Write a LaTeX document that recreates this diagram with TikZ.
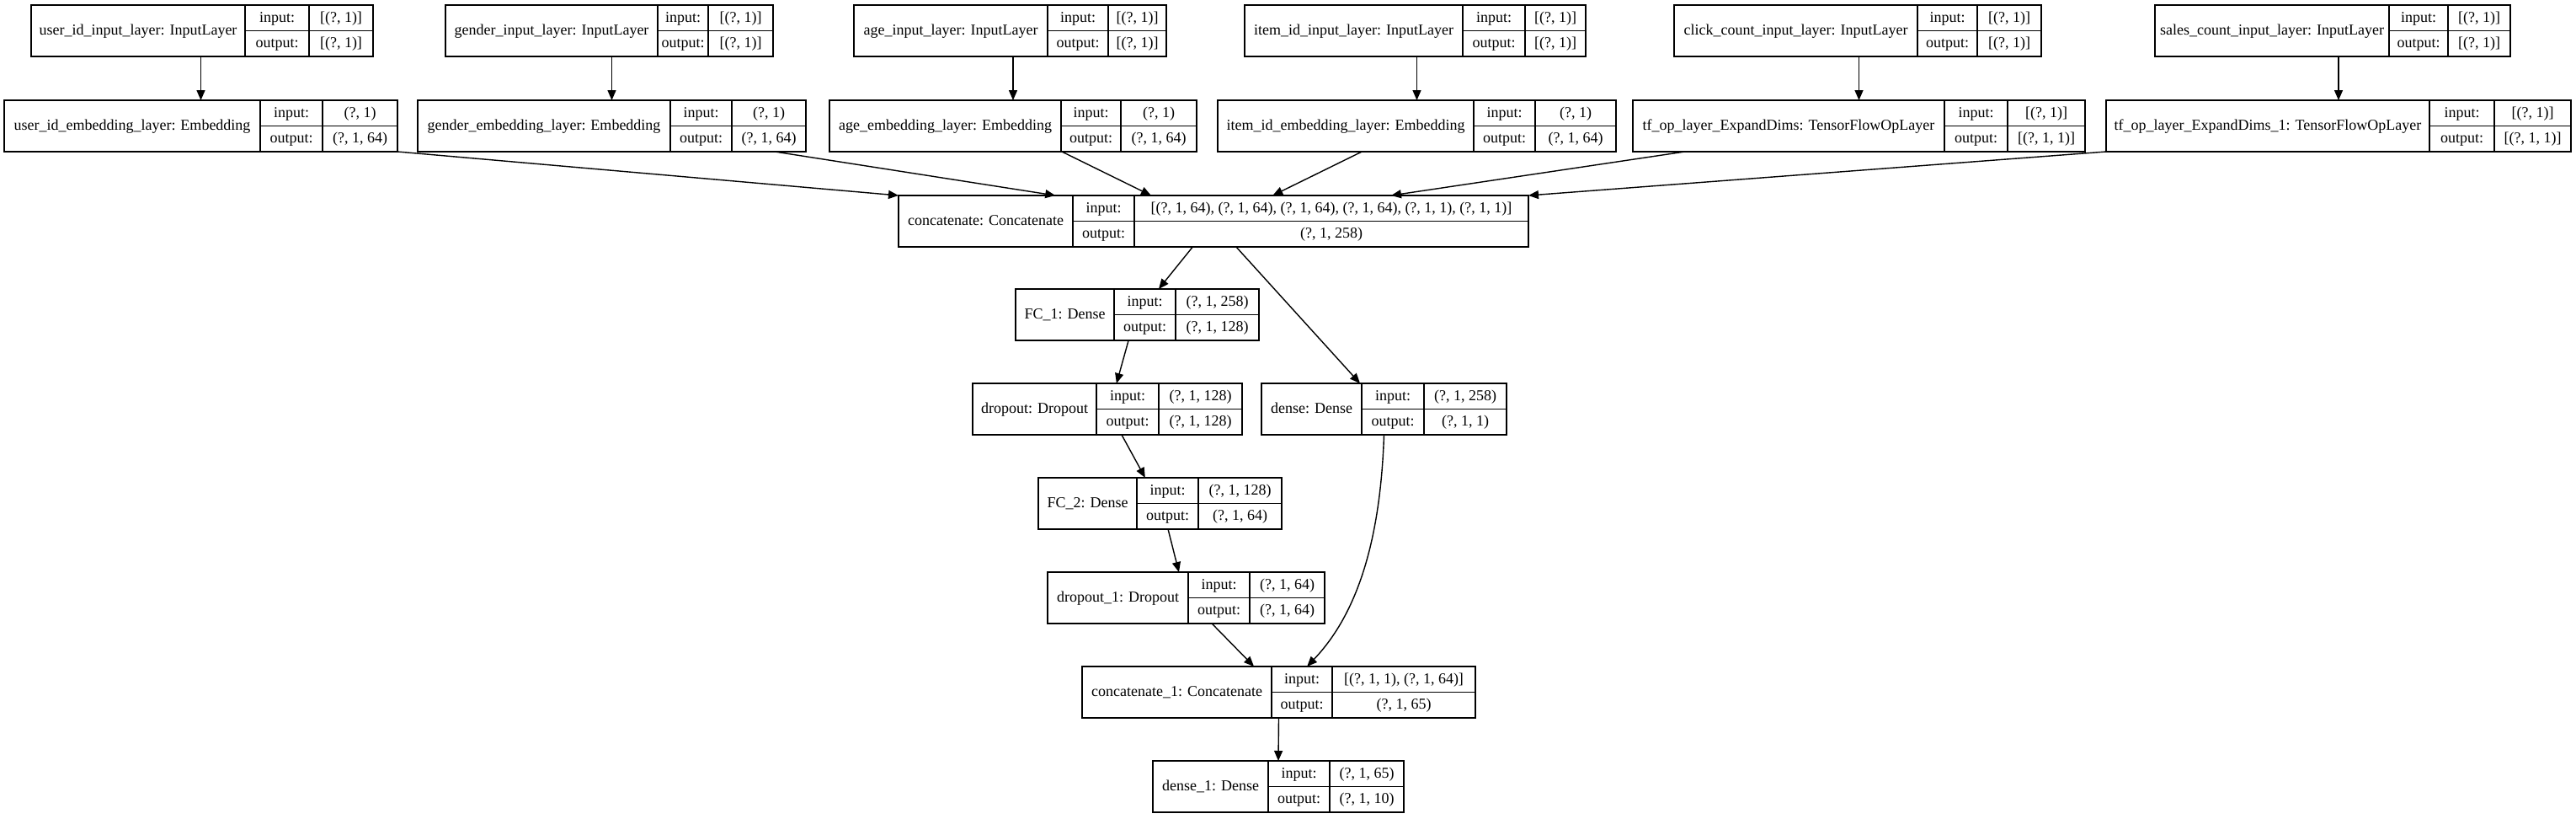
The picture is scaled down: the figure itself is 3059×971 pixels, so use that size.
\documentclass[tikz,border=0pt]{standalone}
\usepackage{fontspec}
\setmainfont{Liberation Serif}
\usetikzlibrary{arrows.meta,calc}
\tikzset{
  box/.style={draw=black, line width=0.75pt, inner sep=0pt, outer sep=0pt},
  boxline/.style={draw=black, line width=0.75pt},
  txt/.style={inner sep=0pt, text height=6.4pt, text depth=1.9pt, font=\fontsize{9pt}{10pt}\selectfont},
  arr/.style={draw=black, line width=0.7pt, -{Triangle[length=6pt,width=5pt]}},
}
\newcommand\klayer[9]{%
  \node[box, minimum width={(#5-#2)*0.5pt}, minimum height=30.5pt] (#1) at ({(#2+#5)/2},{#6+30.5}) {};
  \draw[boxline] (#3,#6) -- (#3,#6+61) (#4,#6) -- (#4,#6+61) (#3,#6+30.5) -- (#5,#6+30.5);
  \node[txt] (#1-n) at ({(#2+#3)/2},{#6+30.5}) {#7};
  \node[txt] (#1-il) at ({(#3+#4)/2},{#6+15.5}) {input:};
  \node[txt] (#1-ol) at ({(#3+#4)/2},{#6+46}) {output:};
  \node[txt] (#1-iv) at ({(#4+#5)/2},{#6+15.5}) {#8};
  \node[txt] (#1-ov) at ({(#4+#5)/2},{#6+46}) {#9};
}
\begin{document}
\begin{tikzpicture}[x=0.5pt,y=-0.5pt]
\useasboundingbox[fill=white] (0,0) rectangle (3059,971);
% row 1: inputs
\klayer{ui}{37}{291}{367}{443}{6}{user\_id\_input\_layer: InputLayer}{[(?, 1)]}{[(?, 1)]}
\klayer{gi}{529}{781}{841}{918}{6}{gender\_input\_layer: InputLayer}{[(?, 1)]}{[(?, 1)]}
\klayer{ai}{1014}{1244}{1316}{1385}{6}{age\_input\_layer: InputLayer}{[(?, 1)]}{[(?, 1)]}
\klayer{ii}{1478}{1737}{1811}{1883}{6}{item\_id\_input\_layer: InputLayer}{[(?, 1)]}{[(?, 1)]}
\klayer{ci}{1988}{2277}{2348}{2424}{6}{click\_count\_input\_layer: InputLayer}{[(?, 1)]}{[(?, 1)]}
\klayer{si}{2559}{2837}{2907}{2981}{6}{sales\_count\_input\_layer: InputLayer}{[(?, 1)]}{[(?, 1)]}
% row 2
\klayer{ue}{5}{309}{383}{472}{119}{user\_id\_embedding\_layer: Embedding}{(?, 1)}{(?, 1, 64)}
\klayer{ge}{496}{796}{869}{957}{119}{gender\_embedding\_layer: Embedding}{(?, 1)}{(?, 1, 64)}
\klayer{ae}{985}{1260}{1331}{1421}{119}{age\_embedding\_layer: Embedding}{(?, 1)}{(?, 1, 64)}
\klayer{ie}{1446}{1750}{1823}{1919}{119}{item\_id\_embedding\_layer: Embedding}{(?, 1)}{(?, 1, 64)}
\klayer{ce}{1939}{2309}{2384}{2476}{119}{tf\_op\_layer\_ExpandDims: TensorFlowOpLayer}{[(?, 1)]}{[(?, 1, 1)]}
\klayer{se}{2501}{2885}{2962}{3053}{119}{tf\_op\_layer\_ExpandDims\_1: TensorFlowOpLayer}{[(?, 1)]}{[(?, 1, 1)]}
% lower part
\klayer{cc}{1067}{1274}{1347}{1815}{232}{concatenate: Concatenate}{[(?, 1, 64), (?, 1, 64), (?, 1, 64), (?, 1, 64), (?, 1, 1), (?, 1, 1)]}{(?, 1, 258)}
\klayer{fc1}{1206}{1323}{1396}{1495}{343}{FC\_1: Dense}{(?, 1, 258)}{(?, 1, 128)}
\klayer{do}{1155}{1302}{1376}{1475}{455}{dropout: Dropout}{(?, 1, 128)}{(?, 1, 128)}
\klayer{de}{1498}{1617}{1691}{1789}{455}{dense: Dense}{(?, 1, 258)}{(?, 1, 1)}
\klayer{fc2}{1233}{1350}{1423}{1522}{567}{FC\_2: Dense}{(?, 1, 128)}{(?, 1, 64)}
\klayer{do1}{1244}{1411}{1484}{1573}{679}{dropout\_1: Dropout}{(?, 1, 64)}{(?, 1, 64)}
\klayer{cc1}{1285}{1510}{1582}{1752}{791}{concatenate\_1: Concatenate}{[(?, 1, 1), (?, 1, 64)]}{(?, 1, 65)}
\klayer{d1}{1369}{1506}{1579}{1667}{903}{dense\_1: Dense}{(?, 1, 65)}{(?, 1, 10)}
% vertical input -> embedding edges
\draw[arr] (ue.north |- ui.south) -- (ue.north);
\draw[arr] (ge.north |- gi.south) -- (ge.north);
\draw[arr] (ae.north |- ai.south) -- (ae.north);
\draw[arr] (ie.north |- ii.south) -- (ie.north);
\draw[arr] (ce.north |- ci.south) -- (ce.north);
\draw[arr] (se.north |- si.south) -- (se.north);
% into concatenate
\draw[arr] (ue.south east) -- (cc.north west);
\draw[arr] ($(ge.south west)!0.92!(ge.south east)$) -- ($(cc.north west)!0.249!(cc.north east)$);
\draw[arr] ($(ae.south west)!0.633!(ae.south east)$) -- ($(cc.north west)!0.401!(cc.north east)$);
\draw[arr] ($(ie.south west)!0.362!(ie.south east)$) -- ($(cc.north west)!0.594!(cc.north east)$);
\draw[arr] ($(ce.south west)!0.115!(ce.south east)$) -- ($(cc.north west)!0.782!(cc.north east)$);
\draw[arr] (se.south west) -- (cc.north east);
% lower edges
\draw[arr] ($(cc.south west)!0.467!(cc.south east)$) -- ($(fc1.north west)!0.588!(fc1.north east)$);
\draw[arr] ($(cc.south west)!0.536!(cc.south east)$) -- ($(de.north west)!0.402!(de.north east)$);
\draw[arr] ($(fc1.south west)!0.464!(fc1.south east)$) -- ($(do.north west)!0.534!(do.north east)$);
\draw[arr] ($(do.south west)!0.553!(do.south east)$) -- ($(fc2.north west)!0.439!(fc2.north east)$);
\draw[arr] ($(fc2.south west)!0.533!(fc2.south east)$) -- ($(do1.north west)!0.474!(do1.north east)$);
\draw[arr] ($(do1.south west)!0.593!(do1.south east)$) -- ($(cc1.north west)!0.437!(cc1.north east)$);
\draw[arr] (de.south) .. controls ($(de.south)+(-3.5,104)$) and ($(cc1.north west)!0.572!(cc1.north east)+(68,-71)$) .. ($(cc1.north west)!0.572!(cc1.north east)$);
\draw[arr] (cc1.south) -- (d1.north);
\end{tikzpicture}
\end{document}
